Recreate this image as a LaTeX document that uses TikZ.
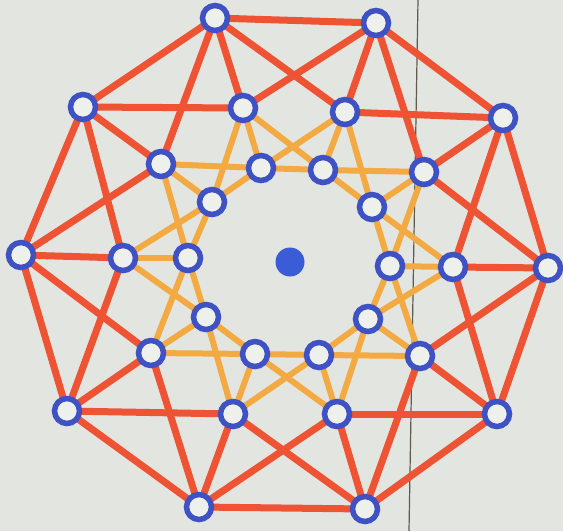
\documentclass[tikz,border=0pt]{standalone}
\usetikzlibrary{backgrounds}
\definecolor{wall}{HTML}{E3E5E1}
\definecolor{ringblue}{HTML}{3F52C4}
\definecolor{dotblue}{HTML}{3A5CD6}
\definecolor{redbar}{HTML}{EE5433}
\definecolor{yellowbar}{HTML}{F4AA42}
\definecolor{holefill}{HTML}{EEF0EC}
\definecolor{seam}{HTML}{5E5A4E}
\begin{document}
\begin{tikzpicture}[x=1pt,y=-1pt,
  ring/.style={circle,draw=ringblue,line width=5.5pt,fill=holefill,minimum size=25pt,inner sep=0pt},
  hub/.style={circle,fill=dotblue,minimum size=29pt,inner sep=0pt},
  redbarline/.style={draw=redbar,line width=7pt},
  yelbarline/.style={draw=yellowbar,line width=6pt},
  seamline/.style={draw=seam,line width=1.2pt}]
\useasboundingbox (0,0) rectangle (563,531);
% rings
\foreach \n/\x/\y in {O1/215/18,O2/376/23,O3/503/118,O4/548/268,O5/497/414,O6/365/509,O7/199/507,O8/67/411,O9/21/255,O10/83/107,
  S1/243/108,S2/345/112,S3/424/172,S4/453/267,S5/420/356,S6/337/414,S7/233/414,S8/151/353,S9/123/258,S10/161/164,
  I1/261/168,I2/323/170,I3/372/207,I4/390/266,I5/368/319,I6/319/355,I7/255/354,I8/206/317,I9/188/258,I10/212/202}
  \node[ring] (\n) at (\x,\y) {};
\node[hub] (C) at (290,262) {};
\coordinate (seamtop) at (418,0);
\coordinate (seambot) at (409,531);
\begin{pgfonlayer}{background}
  \fill[wall] (0,0) rectangle (563,531);
  \draw[seamline] (seamtop) -- (seambot);
  \foreach \k in {1,...,10}{
    \pgfmathtruncatemacro{\p}{mod(\k,10)+1}
    \pgfmathtruncatemacro{\m}{mod(\k+8,10)+1}
    \draw[yelbarline] (S\k.center) -- (I\m.center);
    \draw[yelbarline] (S\k.center) -- (I\k.center);
    \draw[yelbarline] (S\k.center) -- (I\p.center);
    \draw[yelbarline] (I\k.center) -- (I\p.center);
  }
  \foreach \k in {1,...,10}{
    \pgfmathtruncatemacro{\p}{mod(\k,10)+1}
    \pgfmathtruncatemacro{\m}{mod(\k+8,10)+1}
    \draw[redbarline] (O\k.center) -- (O\p.center);
    \draw[redbarline] (O\k.center) -- (S\m.center);
    \draw[redbarline] (O\k.center) -- (S\k.center);
    \draw[redbarline] (O\k.center) -- (S\p.center);
  }
\end{pgfonlayer}
\end{tikzpicture}
\end{document}
